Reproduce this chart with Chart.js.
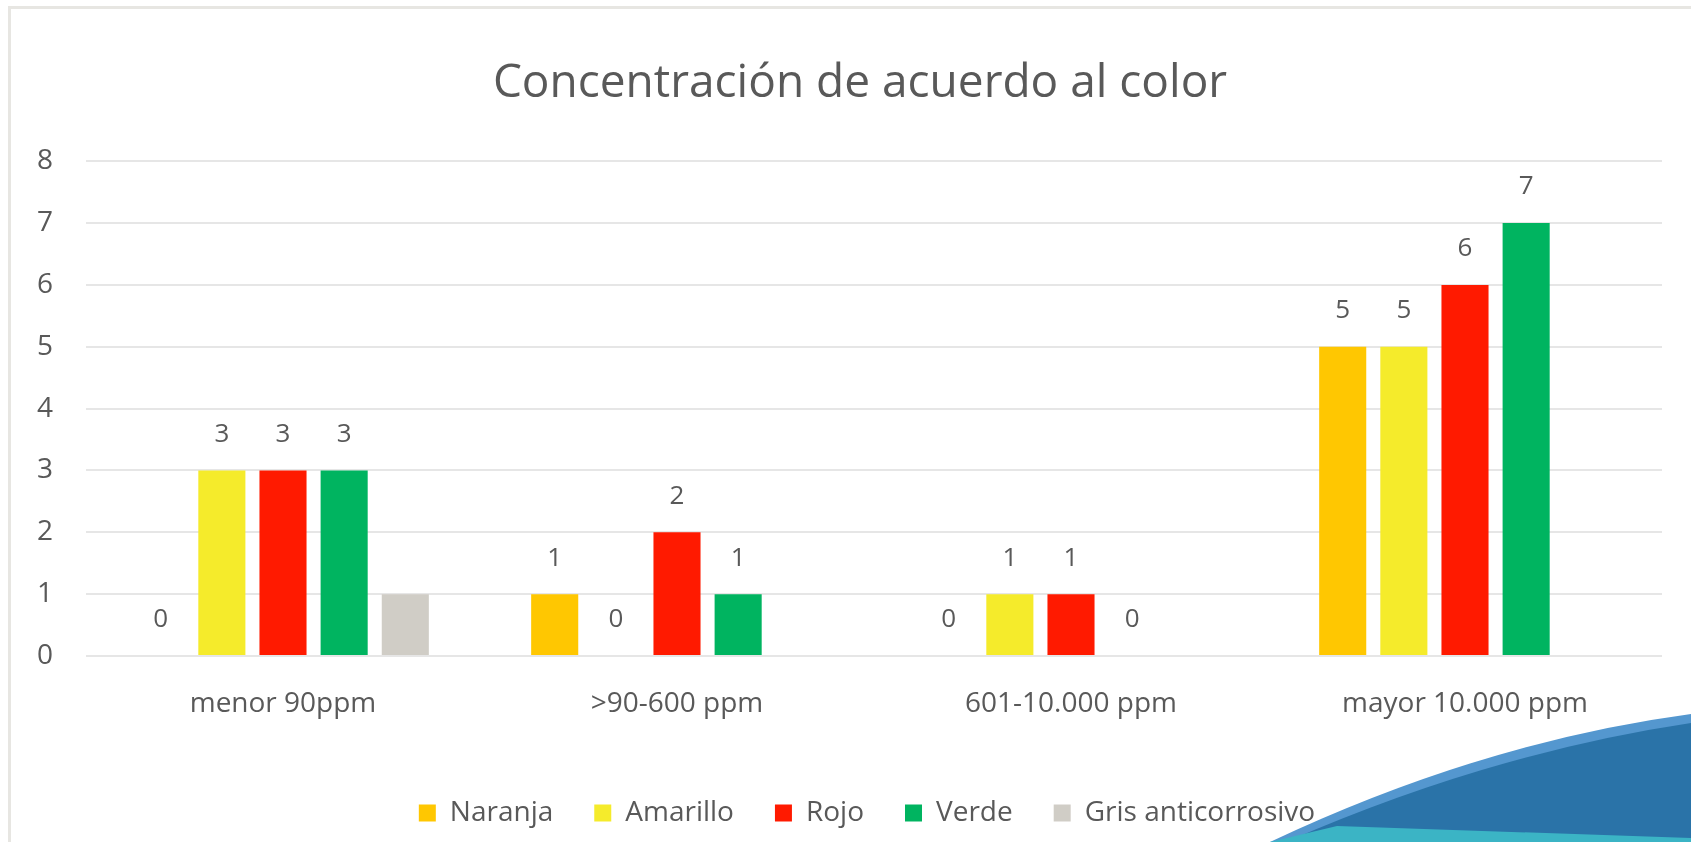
<!DOCTYPE html>
<html lang="es">
<head>
<meta charset="utf-8">
<title>Concentración de acuerdo al color</title>
<script src="https://cdn.jsdelivr.net/npm/chart.js@4.4.1/dist/chart.umd.min.js"></script>
<style>
  html, body { margin: 0; padding: 0; background: #fff; }
  #wrap { position: relative; width: 1691px; height: 842px; overflow: hidden; }
  #frame { position: absolute; left: 8px; top: 6px; right: 0; bottom: 0;
           border-top: 3px solid #e7e6e2; border-left: 3px solid #e7e6e2; }
  #swoosh { position: absolute; left: 0; top: 0; pointer-events: none; }
  canvas { position: absolute; left: 0; top: 0; }
</style>
</head>
<body>
<div id="wrap">
  <div id="frame"></div>
  <canvas id="colorChart"></canvas>
  <svg id="swoosh" width="1691" height="842" viewBox="0 0 1691 842">
    <path d="M1270 842 Q1482 742 1691 714 L1691 842 Z" fill="#5497cf"/>
    <path d="M1286 842 Q1490 753 1691 723 L1691 842 Z" fill="#2a73a8"/>
    <path d="M1270 842 L1337 826 L1691 838 L1691 842 Z" fill="#3bb4c5"/>
  </svg>
</div>
<script>
// categorias y series
const categories = ['menor 90ppm', '>90-600 ppm', '601-10.000 ppm', 'mayor 10.000 ppm'];
const naranja = [0, 1, 0, 5];
const amarillo = [3, 0, 1, 5];
const rojo = [3, 2, 1, 6];
const verde = [3, 1, 0, 7];
const gris = [1, null, null, null];
const yTicks = [0, 1, 2, 3, 4, 5, 6, 7, 8];

const textColor = '#595959';

// etiquetas de valor encima de cada barra
const valueLabels = {
    id: 'valueLabels',
    afterDatasetsDraw(chart) {
        const ctx = chart.ctx;
        ctx.save();
        ctx.font = '26px "Open Sans"';
        ctx.fillStyle = textColor;
        ctx.textAlign = 'center';
        ctx.textBaseline = 'middle';
        chart.data.datasets.forEach((ds, i) => {
            if (ds.showValues === false) return;
            const meta = chart.getDatasetMeta(i);
            meta.data.forEach((bar, j) => {
                const v = ds.data[j];
                if (v === null || v === undefined) return;
                ctx.fillText(String(v), bar.x, bar.y - 36);
            });
        });
        ctx.restore();
    }
};

// desplaza titulo y leyenda como en el original
const blockShift = {
    id: 'blockShift',
    afterLayout(chart) {
        chart.legend.left += 62;
        chart.titleBlock.left += 48;
    }
};

const chartData = {
    labels: categories,
    datasets: [
        { label: 'Naranja', data: naranja, backgroundColor: '#ffc701' },
        { label: 'Amarillo', data: amarillo, backgroundColor: '#f5eb2b' },
        { label: 'Rojo', data: rojo, backgroundColor: '#ff1a00' },
        { label: 'Verde', data: verde, backgroundColor: '#00b460' },
        { label: 'Gris anticorrosivo', data: gris, backgroundColor: '#d0cdc6', showValues: false }
    ]
};

const config = {
    type: 'bar',
    data: chartData,
    options: {
        responsive: false,
        animation: false,
        categoryPercentage: 0.776,
        barPercentage: 0.77,
        borderWidth: 0,
        layout: {
            padding: { left: 10, right: 29, top: 0, bottom: 5 }
        },
        plugins: {
            title: {
                display: true,
                text: 'Concentración de acuerdo al color',
                color: textColor,
                font: { family: '"Open Sans"', size: 46, weight: 'normal' },
                padding: { top: 56, bottom: 50 }
            },
            legend: {
                position: 'bottom',
                labels: {
                    color: textColor,
                    font: { family: '"Open Sans"', size: 28 },
                    boxWidth: 17,
                    boxHeight: 17,
                    padding: 41
                }
            },
            tooltip: { enabled: false }
        },
        scales: {
            x: {
                grid: { display: false },
                border: { display: false },
                ticks: {
                    color: textColor,
                    font: { family: '"Open Sans"', size: 28 },
                    padding: 23,
                    maxRotation: 0
                },
                afterFit(scale) { scale.height = 102; }
            },
            y: {
                min: 0,
                max: 8,
                afterBuildTicks(scale) { scale.ticks = yTicks.map(v => ({ value: v })); },
                grid: { color: '#e6e6e6', lineWidth: 2, drawTicks: false },
                border: { display: false },
                ticks: {
                    color: textColor,
                    font: { family: '"Open Sans"', size: 28 },
                    padding: 33
                },
                afterFit(scale) { scale.width = 76; }
            }
        }
    },
    plugins: [valueLabels, blockShift]
};

const canvas = document.getElementById('colorChart');
canvas.width = 1691;
canvas.height = 842;
let colorChart = new Chart(canvas.getContext('2d'), config);
</script>
</body>
</html>
